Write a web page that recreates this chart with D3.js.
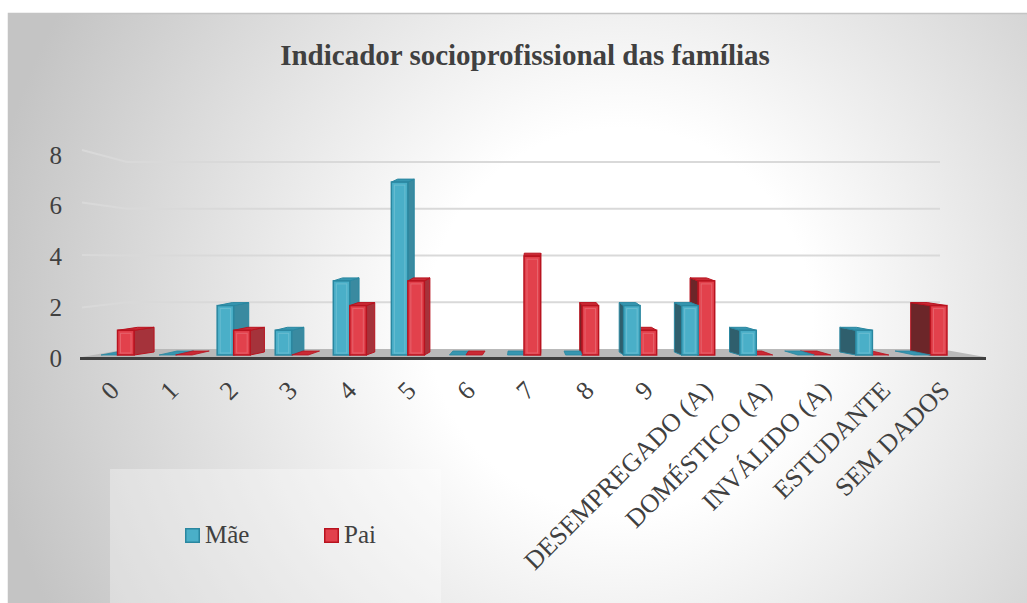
<!DOCTYPE html>
<html>
<head>
<meta charset="utf-8">
<script src="https://cdn.jsdelivr.net/npm/d3@7/dist/d3.min.js"></script>
<style>
html,body{margin:0;padding:0;background:#fff;}
svg{display:block;}
</style>
</head>
<body>
<svg id="chart" width="1027" height="603"></svg>
<script>
const categories = ["0","1","2","3","4","5","6","7","8","9","DESEMPREGADO (A)","DOMÉSTICO (A)","INVÁLIDO (A)","ESTUDANTE","SEM DADOS"];
const maeValues = [0,0,2,1,3,7,0,0,0,2,2,1,0,1,0];
const paiValues = [1,0,1,0,2,3,0,4,2,1,3,0,0,0,2];
const yTicks = [0,2,4,6,8];
const seriesNames = ["Mãe","Pai"];
const title = "Indicador socioprofissional das famílias";

const FONT = "'Liberation Serif', 'Times New Roman', 'DejaVu Serif', serif";
const svg = d3.select("#chart");
const defs = svg.append("defs");
const rg = defs.append("radialGradient").attr("id","bg")
  .attr("gradientUnits","userSpaceOnUse")
  .attr("cx",620).attr("cy",320).attr("r",640);
rg.append("stop").attr("offset","0").attr("stop-color","#ffffff");
rg.append("stop").attr("offset","0.3").attr("stop-color","#ffffff");
rg.append("stop").attr("offset","1").attr("stop-color","#c4c4c4");

// chart area
svg.append("rect").attr("x",8).attr("y",13).attr("width",1019).attr("height",590)
  .attr("fill","url(#bg)");
svg.append("path").attr("d","M8.5,603V13.5H1027").attr("fill","none").attr("stroke","#c4c4c4").attr("stroke-width",1.5);

// title
svg.append("text").attr("x",525).attr("y",65).attr("text-anchor","middle")
  .attr("font-family",FONT).attr("fill","#404040")
  .attr("font-size",29).attr("font-weight","bold").text(title);

// scales
const yFront = d3.scaleLinear().domain([0,8]).range([355,157.4]);
const yBack = d3.scaleLinear().domain([0,8]).range([349,162]);
const yLeft = d3.scaleLinear().domain([0,8]).range([360,150]);
const yLabel = d3.scaleLinear().domain([0,8]).range([358,155]);
const xBar = d3.scaleBand().domain(categories).range([88.5,959.5]);
const xFloor = d3.scaleBand().domain(categories).range([80,970]);
const vp = 535, k = 0.05, dy = -3;

// gridlines
const grid = svg.append("g");
yTicks.filter(t=>t>0).forEach(t=>{
  grid.append("path")
    .attr("d",`M82,${yLeft(t)}L127,${yBack(t)}L940,${yBack(t)}`)
    .attr("fill","none").attr("stroke","#d9d9d9").attr("stroke-width",2);
});

// y axis labels
svg.append("g").selectAll("text").data(yTicks).join("text")
  .attr("x",62).attr("y",d=>yLabel(d)+8.5).attr("text-anchor","end")
  .attr("font-family",FONT).attr("fill","#404040")
  .attr("font-size",25).text(d=>d);

// floor
svg.append("path").attr("d",`M82,357L985,357L940,${yBack(0)}L127,${yBack(0)}Z`)
  .attr("fill","#b9b9b9");
svg.append("line").attr("x1",80).attr("x2",986).attr("y1",358.5).attr("y2",358.5)
  .attr("stroke","#3f3f3f").attr("stroke-width",3);

// bars
const styles = {
  "Mãe": {front:"#4aafc8", edge:"#2a87a0", sideL:"#2f5f6d", sideR:"#3a8aa0", top:"#3796b0"},
  "Pai": {front:"#e2414c", edge:"#b8131f", sideL:"#6c2629", sideR:"#a5333b", top:"#c92a35"}
};
const bars = [];
categories.forEach((c,i)=>{
  const mid = xBar(c) + xBar.bandwidth()/2;
  const w = 16.5;
  bars.push({cat:c, s:"Mãe", v:maeValues[i], x0:mid-w, x1:mid});
  bars.push({cat:c, s:"Pai", v:paiValues[i], x0:mid, x1:mid+w});
});
bars.forEach(b=>{b.c=(b.x0+b.x1)/2; b.dist=Math.abs(b.c-vp);});
bars.sort((a,b)=>b.dist-a.dist);

const gb = svg.append("g");
bars.forEach(b=>{
  const st = styles[b.s];
  const yb = yFront(0), yt = yFront(b.v);
  const leftSide = b.c < vp;
  const dx = leftSide ? Math.abs(b.x1 - vp)*k : -Math.abs(b.x0 - vp)*k;
  const g = gb.append("g");
  if (b.v === 0) {
    g.append("path")
      .attr("d",`M${b.x0},${yb}L${b.x1},${yb}L${b.x1+dx},${yb-4}L${b.x0+dx},${yb-4}Z`)
      .attr("fill",st.top).attr("stroke",st.edge).attr("stroke-width",0.8);
    return;
  }
  if (leftSide) {
    g.append("path")
      .attr("d",`M${b.x1},${yb}L${b.x1},${yt}L${b.x1+dx},${yt+dy}L${b.x1+dx},${yb+dy}Z`)
      .attr("fill",st.sideR).attr("stroke",st.edge).attr("stroke-width",1);
  } else {
    g.append("path")
      .attr("d",`M${b.x0},${yb}L${b.x0},${yt}L${b.x0+dx},${yt+dy}L${b.x0+dx},${yb+dy}Z`)
      .attr("fill",st.sideL).attr("stroke",st.edge).attr("stroke-width",1);
  }
  g.append("path")
    .attr("d",`M${b.x0},${yt}L${b.x1},${yt}L${b.x1+dx},${yt+dy}L${b.x0+dx},${yt+dy}Z`)
    .attr("fill",st.top).attr("stroke",st.edge).attr("stroke-width",1);
  g.append("rect").attr("x",b.x0).attr("y",yt).attr("width",b.x1-b.x0).attr("height",yb-yt)
    .attr("fill",st.front).attr("stroke",st.edge).attr("stroke-width",1.5);
  g.append("rect").attr("x",b.x0+3).attr("y",yt+3).attr("width",Math.max(0,b.x1-b.x0-6)).attr("height",Math.max(0,yb-yt-5))
    .attr("fill","none").attr("stroke","#ffffff").attr("stroke-opacity",0.18).attr("stroke-width",1);
});

// x labels
svg.append("g").selectAll("text").data(categories).join("text")
  .attr("text-anchor","end")
  .attr("font-family",FONT).attr("fill","#404040")
  .attr("transform",d=>`translate(${xFloor(d)+xFloor.bandwidth()/2+11},392) rotate(-45)`)
  .attr("font-size",26).text(d=>d);

// legend
svg.append("rect").attr("x",110).attr("y",469).attr("width",331).attr("height",134)
  .attr("fill","#ffffff").attr("fill-opacity",0.32);
const legendX = [185,324];
seriesNames.forEach((n,i)=>{
  const st = styles[n];
  svg.append("rect").attr("x",legendX[i]+0.75).attr("y",528.75).attr("width",13.5).attr("height",13.5)
    .attr("fill",st.front).attr("stroke",st.edge).attr("stroke-width",1.5);
  svg.append("text").attr("x",legendX[i]+20).attr("y",543)
    .attr("font-family",FONT).attr("fill","#404040")
    .attr("font-size",25).text(n);
});
</script>
</body>
</html>
